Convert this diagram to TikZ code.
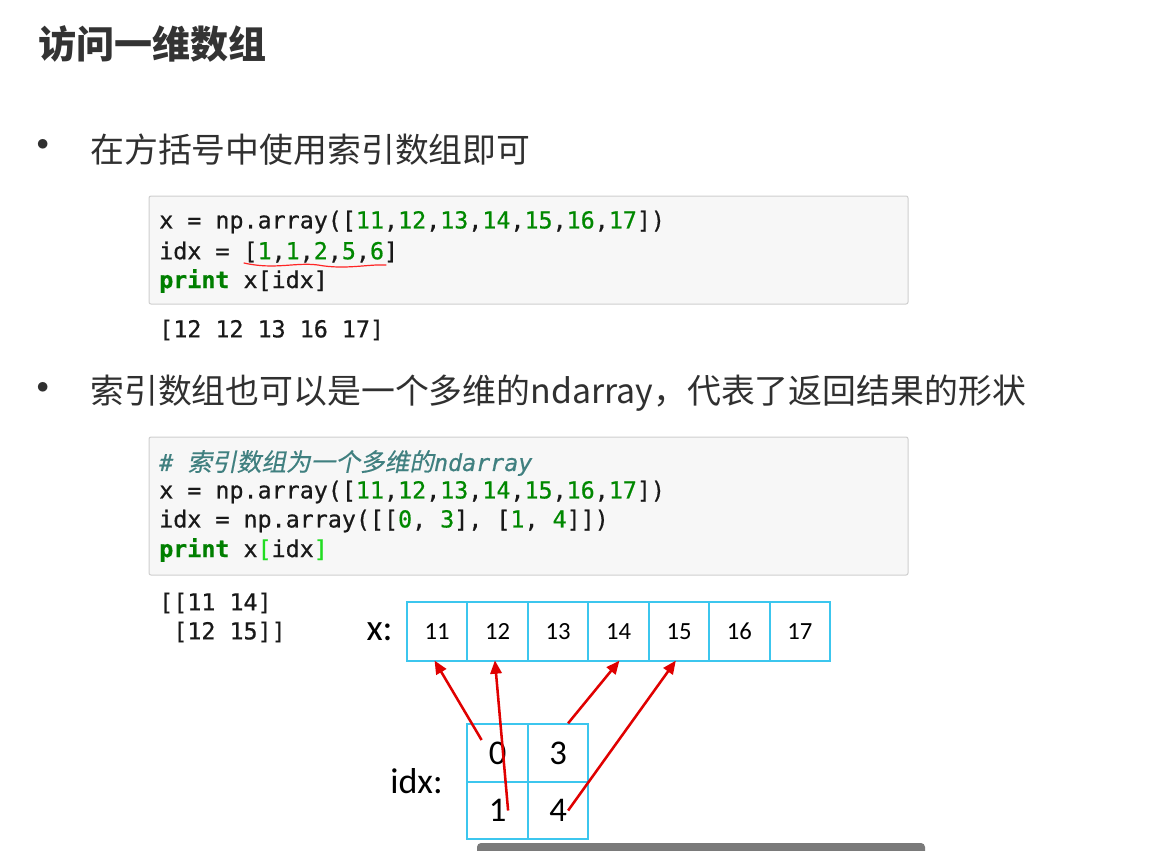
\documentclass[tikz,border=0pt]{standalone}
\usepackage{xcolor}
\usepackage{fontspec}
\usepackage{tikz}
\usetikzlibrary{calc}
\usetikzlibrary{arrows.meta}
\usetikzlibrary{positioning}
\newfontfamily\cjk{Noto Sans CJK SC}
\newfontfamily\cjkslant[FakeSlant=0.2, FakeBold=0.4]{Noto Sans CJK SC}
\newfontfamily\codefont[FakeBold=0.6]{DejaVu Sans Mono}
\newfontfamily\calfont{Carlito}
\definecolor{cellblue}{HTML}{3CC6EE}
\definecolor{arrowred}{HTML}{E00000}
\definecolor{codebg}{HTML}{F7F7F7}
\definecolor{codeframe}{HTML}{CFCFCF}
\definecolor{codenum}{HTML}{008800}
\definecolor{codekw}{HTML}{007F00}
\definecolor{codecom}{HTML}{408080}
\definecolor{bracehl}{HTML}{22DD22}
\definecolor{headgray}{HTML}{333333}
\definecolor{textgray}{HTML}{303030}
\newcommand{\cn}[1]{\textcolor{codenum}{#1}}
\newcommand{\kw}[1]{\textcolor{codekw}{\bfseries #1}}
\tikzset{>=latex}
\tikzstyle{codebox} = [fill = codebg, draw = codeframe, line width = 0.75pt, rounded corners = 1.5pt]
\tikzstyle{codeline} = [draw = none, inner sep = 0, anchor = west, font = \codefont\fontsize{17.5}{20}\selectfont, text = black!90]
\tikzstyle{bullettext} = [draw = none, inner sep = 0, anchor = west, font = \cjk\fontsize{25.4}{28}\selectfont, text = textgray]
\tikzstyle{bulletdot} = [draw = none, inner sep = 0, font = \cjk\fontsize{34}{36}\selectfont, text = textgray]
\tikzstyle{xcell} = [rectangle, draw = cellblue, line width = 1.5pt, minimum width = 45.35pt, minimum height = 44.25pt, inner sep = 0, font = \calfont\fontsize{18.5}{20}\selectfont]
\tikzstyle{idxcell} = [rectangle, draw = cellblue, line width = 1.5pt, minimum width = 45.4pt, minimum height = 43.1pt, inner sep = 0, font = \calfont\fontsize{26}{28}\selectfont]
\tikzstyle{pick} = [-{Triangle[length = 10pt, width = 8.5pt]}, draw = arrowred, fill = arrowred, line width = 1.9pt, shorten > = -1pt]

\begin{document}
\begin{tikzpicture}[x = 0.75pt, y = -0.75pt]
\useasboundingbox (0, 0) rectangle (1176, 850);
\fill [white] (0, 0) rectangle (1176, 850);
% heading and first bullet
\node [draw = none, inner sep = 0, anchor = west, font = \cjk\bfseries\fontsize{28.5}{30}\selectfont, text = headgray] (title) at (38, 44) {访问一维数组};
\node [bulletdot] (b1) at (43, 150) {•};
\node [bullettext] (t1) at (90, 150) {在方括号中使用索引数组即可};
% first code cell
\draw [codebox] (149, 196) rectangle (908, 304);
\node [codeline] (c1a) at (159, 222) {x = np.array([\cn{11},\cn{12},\cn{13},\cn{14},\cn{15},\cn{16},\cn{17}])};
\node [codeline] (c1b) at (159, 252) {idx = [\cn{1},\cn{1},\cn{2},\cn{5},\cn{6}]};
\node [codeline] (c1c) at (159, 281) {\kw{print} x[idx]};
\draw [draw = red!85, line width = 0.9pt, line cap = round] (244, 263) .. controls (275, 270) and (295, 262) .. (318, 265) .. controls (345, 270) and (368, 264) .. (386, 265);
\node [codeline] (o1) at (159, 330) {[12 12 13 16 17]};
% second bullet
\node [bulletdot] (b2) at (43, 393) {•};
\node [bullettext] (t2) at (90, 393) {索引数组也可以是一个多维的ndarray，代表了返回结果的形状};
% second code cell
\draw [codebox] (149, 437) rectangle (908, 575);
\node [codeline, text = codecom] (c2a) at (159, 463) {\itshape \#\ {\cjkslant\fontsize{18.5}{20}\selectfont 索引数组为一个多维的}ndarray};
\node [codeline] (c2b) at (159, 492) {x = np.array([\cn{11},\cn{12},\cn{13},\cn{14},\cn{15},\cn{16},\cn{17}])};
\node [codeline] (c2c) at (159, 521) {idx = np.array([[\cn{0}, \cn{3}], [\cn{1}, \cn{4}]])};
\node [codeline] (c2d) at (159, 550) {\kw{print} x\textcolor{bracehl}{[}idx\textcolor{bracehl}{]}};
\node [codeline] (o2a) at (159, 603) {[[11 14]};
\node [codeline] (o2b) at (159, 632) {\phantom{[}[12 15]]};
% the array x
\node [draw = none, inner sep = 0, anchor = east, font = \calfont\fontsize{28}{30}\selectfont] (xlab) at (393, 632) {x:};
\foreach \v [count = \i] in {11, 12, 13, 14, 15, 16, 17}
  \node [xcell] (x\i) at ({407 + 60.45*(\i - .5)}, 631.2) {\v};
% the index array
\node [draw = none, inner sep = 0, anchor = east, font = \calfont\fontsize{27}{30}\selectfont] (ilab) at (443, 781) {idx:};
\node [idxcell] (i00) at (497.6, 753) {0};
\node [idxcell] (i01) at (558.1, 753) {3};
\node [idxcell] (i10) at (497.6, 810.5) {1};
\node [idxcell] (i11) at (558.1, 810.5) {4};
% arrows from index to value
\draw [pick] ([shift = {(-16, -13)}]i00.center) -- ([xshift = -1.5pt]x1.south);
\draw [pick] ([shift = {(10.5, 0)}]i10.center) -- ([xshift = -2pt]x2.south);
\draw [pick] ([xshift = 7.5pt]i01.north) -- (x4.south);
\draw [pick] ([shift = {(10, 0)}]i11.center) -- ([xshift = -3pt]x5.south);
% player bar at the foot
\fill [black!52, rounded corners = 3pt] (477, 843) rectangle (925, 860);
\end{tikzpicture}
\end{document}
